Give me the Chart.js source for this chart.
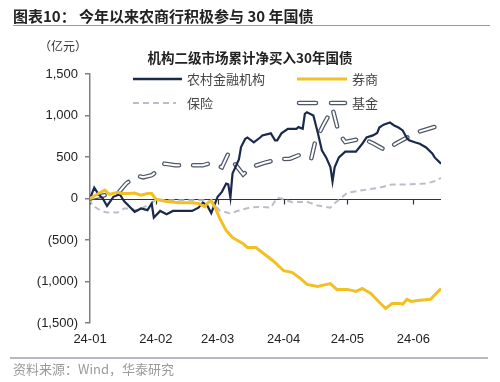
<!DOCTYPE html>
<html><head><meta charset="utf-8">
<script src="https://cdn.jsdelivr.net/npm/chart.js@4.4.1/dist/chart.umd.min.js"></script>
<style>
html,body{margin:0;padding:0;background:#fff;}
#wrap{position:relative;width:500px;height:382px;overflow:hidden;background:#fff;}
#c{position:absolute;left:0;top:0;width:500px;height:382px;}
.t{position:absolute;white-space:nowrap;font-family:"Noto Sans CJK SC","Noto Sans",sans-serif;}
.rule{position:absolute;}
</style></head><body>
<div id="wrap">
<canvas id="c" width="500" height="382"></canvas>
<div class="t" style="left:13px;top:7px;font-size:15px;line-height:18px;font-weight:bold;color:#222;">图表10： 今年以来农商行积极参与 30 年国债</div>
<div class="rule" style="left:13px;top:25px;width:477px;height:1px;background:#9a9a9a"></div>
<div class="t" style="left:39px;top:38px;font-size:12px;line-height:16px;color:#333;">（亿元）</div>
<div class="t" style="left:0;width:500px;text-align:center;top:48px;font-size:13.5px;line-height:18px;font-weight:bold;color:#222;">机构二级市场累计净买入30年国债</div>
<div class="t" style="left:187px;top:71px;font-size:13px;line-height:16px;color:#444;">农村金融机构</div>
<div class="t" style="left:352px;top:71px;font-size:13px;line-height:16px;color:#444;">券商</div>
<div class="t" style="left:187px;top:95px;font-size:13px;line-height:16px;color:#444;">保险</div>
<div class="t" style="left:352px;top:95px;font-size:13px;line-height:16px;color:#444;">基金</div>
<div class="rule" style="left:10px;top:357px;width:478px;height:1.5px;background:#b5bac0"></div>
<div class="t" style="left:13px;top:361px;font-size:13px;line-height:16px;color:#9a9a9a;">资料来源：Wind，华泰研究</div>
</div>
<script>
// ---- data (x = day offset from 2024-01-01) ----
const seriesNames = ['农村金融机构', '券商', '保险', '基金'];
const xTickDays = [0, 31, 60, 91, 121, 152];
const xTickLabels = ['24-01', '24-02', '24-03', '24-04', '24-05', '24-06'];
const yTickValues = [-1500, -1000, -500, 0, 500, 1000, 1500];
const yTickLabels = ['(1,500)', '(1,000)', '(500)', '0', '500', '1,000', '1,500'];

const ruralDays = [0,2,4,6,8,11,14,16,21,24,27,29,30,33,36,39,48,51,53,55,57,60,62,64,65,66,67,70,71,73,74,77,80,81,85,87,88,90,93,97,98,100,101,102,105,107,109,111,113,114,115,117,120,125,128,130,133,135,136,138,141,143,145,147,149,150,153,155,158,161,162,165];
const ruralVals = [0,130,50,0,-90,20,50,-30,-160,-120,-140,-60,-230,-150,-190,-150,-150,-110,-50,-80,-175,20,80,180,170,10,300,470,620,720,735,675,735,760,785,700,700,785,840,840,860,840,1020,1040,1000,800,580,495,380,205,375,495,565,565,660,735,760,790,855,890,915,880,855,820,725,700,675,660,615,540,495,420];

const brokerDays = [0,4,7,9,13,15,18,21,24,27,29,31,36,42,48,51,54,55,57,59,61,64,67,72,74,78,81,86,91,95,99,102,107,113,116,121,125,128,132,136,139,142,146,147,149,151,154,160,161,165];
const brokerVals = [0,60,100,50,75,60,60,65,40,60,60,-10,-35,-50,-50,-60,-100,-60,-25,-120,-240,-385,-470,-545,-590,-590,-650,-750,-870,-890,-965,-1035,-1060,-1025,-1095,-1095,-1120,-1085,-1145,-1250,-1325,-1265,-1265,-1275,-1215,-1240,-1230,-1215,-1190,-1085];

const insurDays = [0,1,5,8,13,16,19,22,24,29,31,36,45,55,58,61,66,70,75,80,85,88,90,95,102,107,113,114,121,128,136,142,150,158,163,165];
const insurVals = [0,-80,-145,-170,-170,-120,-120,-145,-120,-60,-10,-20,-20,-20,-60,-145,-180,-145,-110,-100,-110,10,0,-45,-40,-85,-110,-80,70,100,130,170,170,180,215,250];

const fundDays = [0,3,7,10,13,17,22,25,29,33,35,40,44,53,57,62,65,66,68,72,76,82,88,94,99,104,106,110,114,117,120,128,133,139,144,148,154,163];
const fundVals = [0,20,40,60,60,180,275,255,280,360,420,400,400,400,430,375,540,480,420,290,380,430,470,480,530,480,700,900,1085,785,680,725,665,580,665,720,800,870];

const pts = (d, v) => d.map((x, i) => ({x: x, y: v[i]}));

const NAVY = '#1b2a4c', GOLD = '#f2c023', GREY = '#b9bfc8', FUNDO = '#4f5868';

const extras = {
  id: 'extras',
  beforeDatasetsDraw(chart) {
    const {ctx, chartArea: a, scales: {x, y}} = chart;
    const y0 = Math.round(y.getPixelForValue(0)) + 0.5;
    ctx.save();
    ctx.strokeStyle = '#333'; ctx.lineWidth = 1.2;
    ctx.beginPath();
    ctx.moveTo(a.left, y0); ctx.lineTo(a.right, y0);
    xTickDays.forEach(d => { const px = Math.round(x.getPixelForValue(d)) + 0.5; ctx.moveTo(px, y0); ctx.lineTo(px, y0 + 5); });
    ctx.stroke();
    ctx.restore();
  },
  afterDraw(chart) {
    const ctx = chart.ctx;
    ctx.save();
    ctx.lineCap = 'butt';
    ctx.strokeStyle = NAVY; ctx.lineWidth = 2.5;
    ctx.beginPath(); ctx.moveTo(133, 79); ctx.lineTo(182, 79); ctx.stroke();
    ctx.strokeStyle = GOLD; ctx.lineWidth = 3;
    ctx.beginPath(); ctx.moveTo(297, 79); ctx.lineTo(347, 79); ctx.stroke();
    ctx.strokeStyle = GREY; ctx.lineWidth = 2; ctx.setLineDash([6, 4]);
    ctx.beginPath(); ctx.moveTo(133, 103); ctx.lineTo(176, 103); ctx.stroke();
    ctx.setLineDash([]);
    ctx.lineCap = 'round';
    [[299, 316], [331, 345]].forEach(([a, b]) => {
      ctx.strokeStyle = FUNDO; ctx.lineWidth = 4.5;
      ctx.beginPath(); ctx.moveTo(a, 103); ctx.lineTo(b, 103); ctx.stroke();
      ctx.strokeStyle = '#fff'; ctx.lineWidth = 2;
      ctx.beginPath(); ctx.moveTo(a, 103); ctx.lineTo(b, 103); ctx.stroke();
    });
    ctx.restore();
  }
};

const tickFont = {family: '"Liberation Sans", Arial, sans-serif', size: 13};
const common = {pointRadius: 0, tension: 0, fill: false};

new Chart(document.getElementById('c'), {
  type: 'line',
  data: {
    datasets: [
      Object.assign({label: seriesNames[1], data: pts(brokerDays, brokerVals), borderColor: GOLD, borderWidth: 3, order: 1}, common),
      Object.assign({label: seriesNames[0], data: pts(ruralDays, ruralVals), borderColor: NAVY, borderWidth: 2.2, order: 2}, common),
      Object.assign({label: seriesNames[3], data: pts(fundDays, fundVals), borderColor: '#ffffff', borderWidth: 2, borderDash: [15, 14], borderCapStyle: 'round', order: 3}, common),
      Object.assign({label: seriesNames[3] + '-outline', data: pts(fundDays, fundVals), borderColor: FUNDO, borderWidth: 4.5, borderDash: [15, 14], borderCapStyle: 'round', order: 4}, common),
      Object.assign({label: seriesNames[2], data: pts(insurDays, insurVals), borderColor: GREY, borderWidth: 2, borderDash: [6, 4], order: 5}, common)
    ]
  },
  options: {
    responsive: false,
    animation: false,
    events: [],
    layout: {padding: {left: 0, top: 74, right: 59, bottom: 29}},
    plugins: {legend: {display: false}, tooltip: {enabled: false}, title: {display: false}},
    scales: {
      x: {
        type: 'linear', min: 0, max: 165, position: 'bottom',
        afterBuildTicks: s => { s.ticks = xTickDays.map(v => ({value: v})); },
        afterFit: s => { s.height = 30; },
        ticks: {callback: (v, i) => xTickLabels[i], color: '#222', font: tickFont, padding: 9, maxRotation: 0, autoSkip: false},
        grid: {display: false, drawTicks: false},
        border: {display: false}
      },
      y: {
        type: 'linear', min: -1500, max: 1500, position: 'left',
        afterBuildTicks: s => { s.ticks = yTickValues.map(v => ({value: v})); },
        afterFit: s => { s.width = 90; },
        ticks: {callback: (v, i) => yTickLabels[i], color: '#222', font: tickFont, padding: 7},
        grid: {display: true, drawOnChartArea: false, drawTicks: true, tickLength: 5, color: '#808080', lineWidth: 1.5},
        border: {display: true, color: '#808080', width: 1.5}
      }
    }
  },
  plugins: [extras]
});
</script>
</body></html>
